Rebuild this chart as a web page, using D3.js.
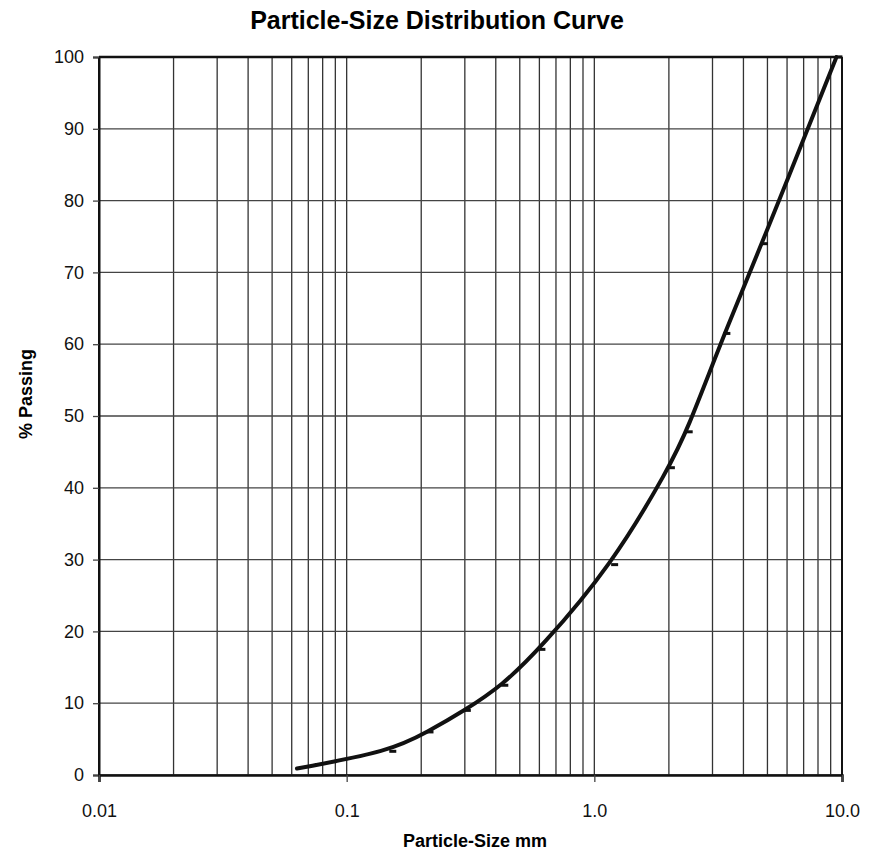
<!DOCTYPE html>
<html>
<head>
<meta charset="utf-8">
<script src="https://cdn.jsdelivr.net/npm/d3@7"></script>
<style>
  body { margin: 0; background: #fff; }
  svg { font-family: "Liberation Sans", Arial, sans-serif; }
  .tick-label { font-size: 18px; fill: #111; }
  .title { font-size: 25px; font-weight: bold; }
  .axis-label { font-size: 18px; font-weight: bold; }
</style>
</head>
<body>
<svg id="chart"></svg>
<script>
// sieve sizes (mm) and % passing
const sizes   = [0.063, 0.15, 0.212, 0.3, 0.425, 0.6, 1.18, 2.0, 2.36, 3.35, 4.75, 9.5];
const passing = [0.9,   3.3,  6.0,   9.0, 12.5,  17.5, 29.3, 42.8, 47.8, 61.5, 74.0, 100];

const xTicks = [0.01, 0.1, 1, 10];
const xTickLabels = ["0.01", "0.1", "1.0", "10.0"];
const yTicks = [0, 10, 20, 30, 40, 50, 60, 70, 80, 90, 100];

const W = 880, H = 851;
const margin = {top: 57, right: 38, bottom: 76, left: 99},
    width = W - margin.left - margin.right,
    height = H - margin.top - margin.bottom;

const svg = d3.select("#chart")
    .attr("width", W)
    .attr("height", H);

const g = svg.append("g")
    .attr("transform", `translate(${margin.left},${margin.top})`);

const x = d3.scaleLog()
    .domain([0.01, 10])
    .range([0, width]);

const y = d3.scaleLinear()
    .domain([0, 100])
    .range([height, 0]);

// minor vertical grid: 1..9 per decade
const gridX = [];
xTicks.slice(0, -1).forEach(d => {
    for (let i = 1; i <= 9; i++) gridX.push(d * i);
});
gridX.push(10);

g.selectAll(".vgrid")
    .data(gridX)
    .enter().append("line")
    .attr("x1", d => x(d))
    .attr("x2", d => x(d))
    .attr("y1", 0)
    .attr("y2", height)
    .attr("stroke", "#333")
    .attr("stroke-width", 1.3);

g.selectAll(".hgrid")
    .data(yTicks)
    .enter().append("line")
    .attr("x1", 0)
    .attr("x2", width)
    .attr("y1", d => y(d))
    .attr("y2", d => y(d))
    .attr("stroke", "#444")
    .attr("stroke-width", 1.3);

// frame
g.append("line").attr("x1", 0).attr("x2", width).attr("y1", 0).attr("y2", 0)
    .attr("stroke", "#111").attr("stroke-width", 2.4);
g.append("line").attr("x1", 0).attr("x2", 0).attr("y1", 0).attr("y2", height)
    .attr("stroke", "#111").attr("stroke-width", 2);
g.append("line").attr("x1", width).attr("x2", width).attr("y1", 0).attr("y2", height)
    .attr("stroke", "#111").attr("stroke-width", 2);

// axes
const yAxis = g.append("g")
    .call(d3.axisLeft(y).tickValues(yTicks).tickSize(6).tickPadding(9));
yAxis.select(".domain").attr("stroke", "#111").attr("stroke-width", 2);
yAxis.selectAll(".tick line").attr("stroke", "#444").attr("stroke-width", 1.3);
yAxis.selectAll("text").attr("class", "tick-label").attr("font-family", null).attr("font-size", null);

const xAxis = g.append("g")
    .attr("transform", `translate(0,${height})`)
    .call(d3.axisBottom(x).tickValues(xTicks).tickFormat((d, i) => xTickLabels[i]).tickSize(7).tickPadding(22));
xAxis.select(".domain").attr("stroke", "#111").attr("stroke-width", 2.5);
xAxis.selectAll(".tick line").attr("stroke", "#444").attr("stroke-width", 1.3);
xAxis.selectAll("text").attr("class", "tick-label").attr("font-family", null).attr("font-size", null);

// curve
const pts = sizes.map((s, i) => ({size: s, pass: passing[i]}));

const line = d3.line()
    .x(d => x(d.size))
    .y(d => y(d.pass))
    .curve(d3.curveBasis);

g.append("path")
    .datum(pts)
    .attr("fill", "none")
    .attr("stroke", "#111")
    .attr("stroke-width", 4)
    .attr("stroke-linecap", "round")
    .attr("d", line);

// small dash markers at each sieve
g.selectAll(".mark")
    .data(pts.slice(1))
    .enter().append("rect")
    .attr("x", d => x(d.size) - 1)
    .attr("y", d => y(d.pass) - 1.5)
    .attr("width", 7)
    .attr("height", 3)
    .attr("fill", "#111");

// labels
svg.append("text")
    .attr("class", "title")
    .attr("x", 437)
    .attr("y", 29)
    .attr("text-anchor", "middle")
    .text("Particle-Size Distribution Curve");

svg.append("text")
    .attr("class", "axis-label")
    .attr("x", 475)
    .attr("y", 847)
    .attr("text-anchor", "middle")
    .text("Particle-Size mm");

svg.append("text")
    .attr("class", "axis-label")
    .attr("transform", `translate(32,${margin.top + height / 2 - 22}) rotate(-90)`)
    .attr("text-anchor", "middle")
    .text("% Passing");
</script>
</body>
</html>
